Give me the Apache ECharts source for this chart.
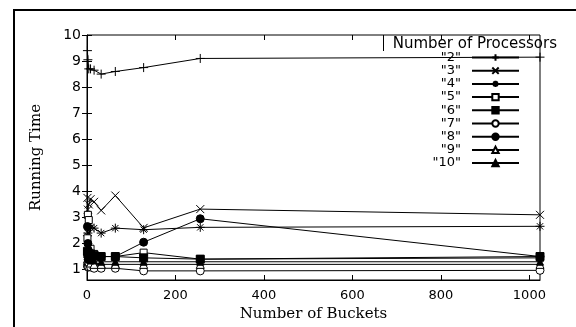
<!DOCTYPE html>
<html>
<head>
<meta charset="utf-8">
<script src="https://cdn.jsdelivr.net/npm/echarts@6/dist/echarts.min.js"></script>
<style>html,body{margin:0;padding:0;background:#fff;}#chart{width:576px;height:327px;}</style>
</head>
<body>
<div id="chart"></div>
<script>
const buckets = [1, 2, 4, 8, 16, 32, 64, 128, 256, 1024];
const seriesNames = ['"2"', '"3"', '"4"', '"5"', '"6"', '"7"', '"8"', '"9"', '"10"'];
const p2  = [9.4, 9.05, 8.7, 8.7, 8.65, 8.5, 8.6, 8.75, 9.1, 9.15];
const p3  = [3.75, 3.3, 3.5, 3.7, 3.6, 3.27, 3.84, 2.6, 3.32, 3.1];
const p4  = [2.3, 2.4, 2.7, 2.6, 2.59, 2.4, 2.59, 2.53, 2.62, 2.66];
const p5  = [2.2, 3.1, 2.9, 1.8, 1.6, 1.5, 1.5, 1.65, 1.4, 1.45];
const p6  = [1.7, 1.6, 1.45, 1.6, 1.55, 1.5, 1.5, 1.45, 1.4, 1.5];
const p7  = [1.15, 1.1, 1.1, 1.1, 1.05, 1.05, 1.05, 0.95, 0.95, 0.97];
const p8  = [2.65, 2.0, 1.7, 1.55, 1.5, 1.5, 1.5, 2.05, 2.95, 1.5];
const p9  = [1.4, 1.35, 1.3, 1.25, 1.2, 1.2, 1.2, 1.2, 1.2, 1.2];
const p10 = [1.5, 1.45, 1.4, 1.35, 1.35, 1.3, 1.3, 1.3, 1.3, 1.3];
const xTicks = [0, 200, 400, 600, 800, 1000];
const yTicks = [1, 2, 3, 4, 5, 6, 7, 8, 9, 10];

const values = [p2, p3, p4, p5, p6, p7, p8, p9, p10];
const symbols = [
  'path://M5,0L5,10M0,5L10,5',
  'path://M0,0L10,10M10,0L0,10',
  'path://M0,5L10,5M5,0L5,10M1.5,1.5L8.5,8.5M8.5,1.5L1.5,8.5',
  'rect', 'rect', 'circle', 'circle', 'triangle', 'triangle'
];
const fills = ['#000', '#000', '#000', '#fff', '#000', '#fff', '#000', '#fff', '#000'];
const sizes = [9, 8, 9, 7, 8, 8, 8, 8, 7];

const series = seriesNames.map((n, i) => ({
  name: n,
  type: 'line',
  data: buckets.map((b, j) => [b, values[i][j]]),
  symbol: symbols[i],
  symbolSize: sizes[i],
  showAllSymbol: true,
  lineStyle: { color: '#000', width: 1 },
  itemStyle: { color: fills[i], borderColor: '#000', borderWidth: 1 },
  emphasis: { disabled: true },
  animation: false
}));

const chart = echarts.init(document.getElementById('chart'), null, { renderer: 'canvas' });
chart.setOption({
  animation: false,
  backgroundColor: '#fff',
  title: {
    text: 'Number of Processors',
    right: 19, top: 37, padding: 0,
    textStyle: { fontFamily: 'DejaVu Sans', fontSize: 15, fontWeight: 'normal', color: '#000' }
  },
  legend: {
    data: seriesNames,
    orient: 'vertical',
    right: 56, top: 51, padding: 0,
    itemWidth: 47, itemHeight: 8, itemGap: 0.2,
    align: 'right',
    selectedMode: false,
    textStyle: { fontFamily: 'DejaVu Sans', fontSize: 13, color: '#000', padding: [0, 6, 0, 0] }
  },
  grid: { left: 87, right: 36, top: 35, bottom: 46, show: true, borderColor: '#000', borderWidth: 1, backgroundColor: 'transparent' },
  xAxis: [{
    type: 'value', min: 0, max: 1024, position: 'bottom',
    name: 'Number of Buckets', nameLocation: 'middle', nameGap: 27,
    nameTextStyle: { fontFamily: 'DejaVu Serif', fontSize: 15, color: '#000' },
    axisLine: { show: true, lineStyle: { color: '#000' } },
    axisTick: { show: true, inside: true, length: 5, customValues: xTicks, lineStyle: { color: '#000' } },
    axisLabel: { show: true, customValues: xTicks, formatter: v => String(v), fontFamily: 'DejaVu Sans', fontSize: 13, color: '#000', margin: 9 },
    splitLine: { show: false }
  }, {
    type: 'value', min: 0, max: 1024, position: 'top',
    axisLine: { show: false },
    axisTick: { show: true, inside: true, length: 5, customValues: xTicks, lineStyle: { color: '#000' } },
    axisLabel: { show: false },
    splitLine: { show: false }
  }],
  yAxis: [{
    type: 'value', min: 0.6, max: 10, position: 'left',
    name: 'Running Time', nameLocation: 'middle', nameGap: 43, nameRotate: 90,
    nameTextStyle: { fontFamily: 'DejaVu Serif', fontSize: 15, color: '#000' },
    axisLine: { show: true, lineStyle: { color: '#000' } },
    axisTick: { show: true, inside: true, length: 5, customValues: yTicks, lineStyle: { color: '#000' } },
    axisLabel: { show: true, customValues: yTicks, formatter: v => String(v), fontFamily: 'DejaVu Sans', fontSize: 14, color: '#000', margin: 6 },
    splitLine: { show: false }
  }, {
    type: 'value', min: 0.6, max: 10, position: 'right',
    axisLine: { show: false },
    axisTick: { show: true, inside: true, length: 5, customValues: yTicks, lineStyle: { color: '#000' } },
    axisLabel: { show: false },
    splitLine: { show: false }
  }],
  graphic: [
    { type: 'rect', shape: { x: 14, y: 10, width: 700, height: 400 }, style: { fill: 'none', stroke: '#000', lineWidth: 2 }, silent: true },
    { type: 'line', shape: { x1: 383.5, y1: 35, x2: 383.5, y2: 51 }, style: { stroke: '#000', lineWidth: 1 }, silent: true }
  ],
  series: series
});
</script>
</body>
</html>
